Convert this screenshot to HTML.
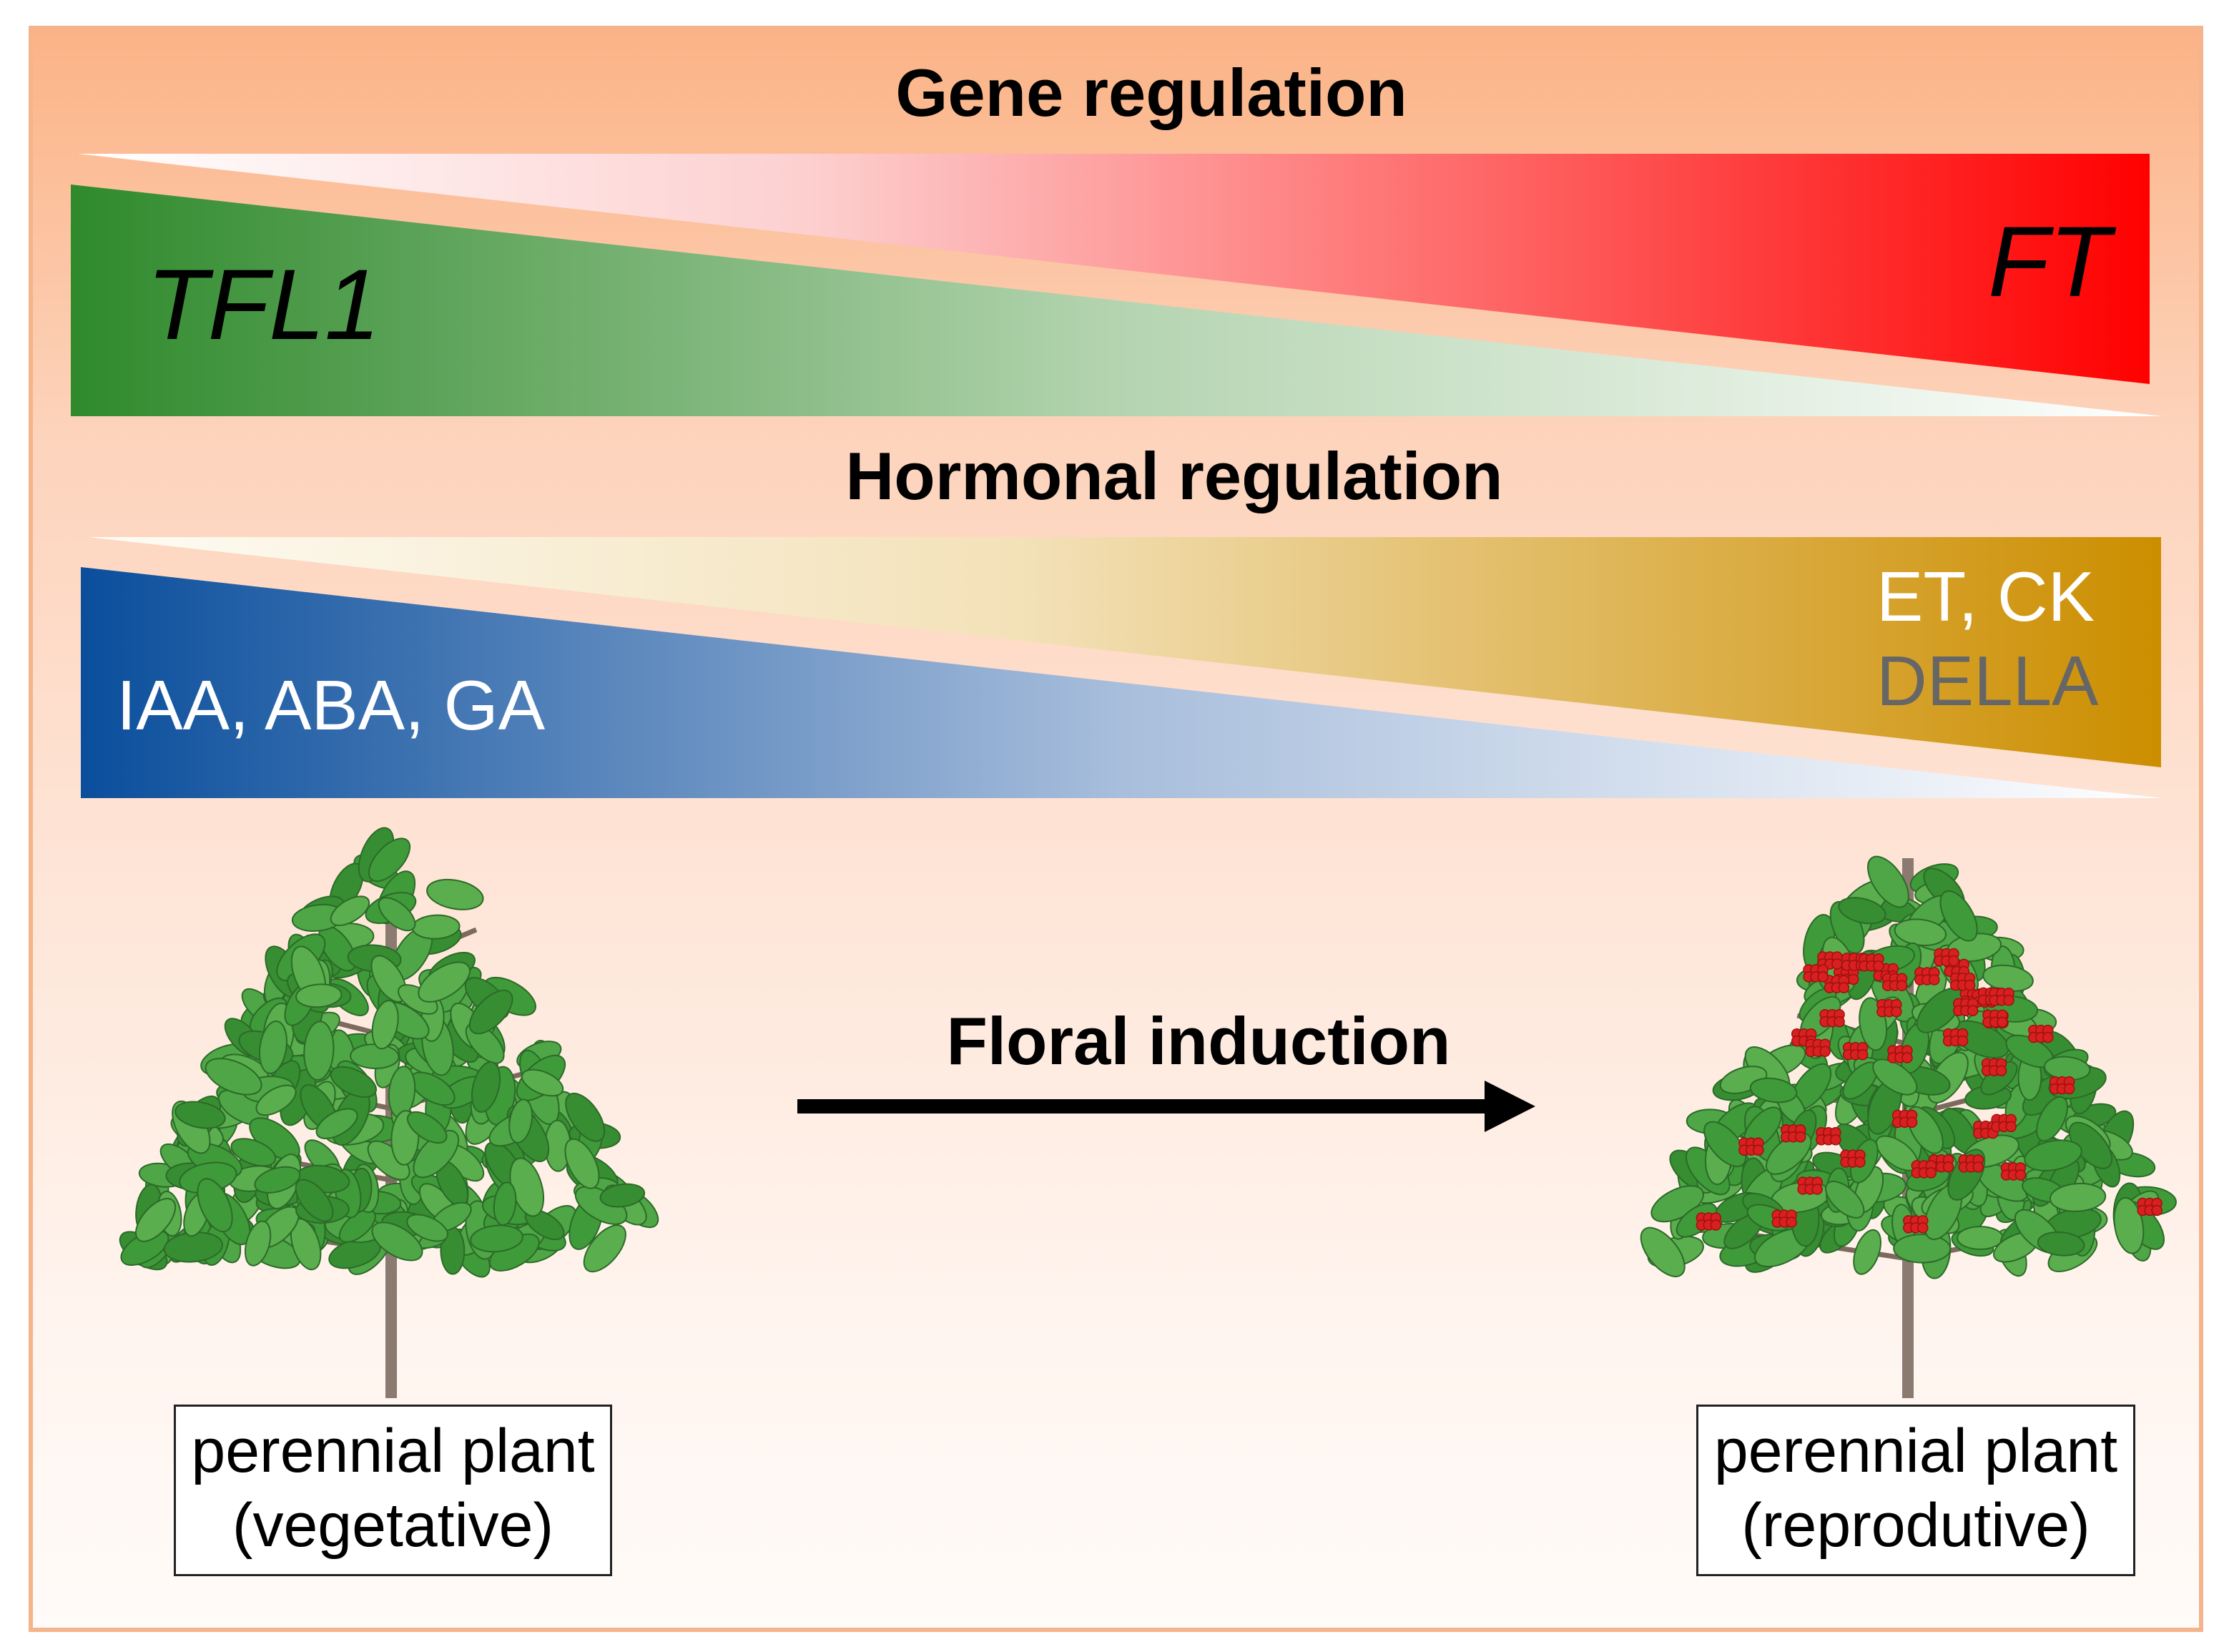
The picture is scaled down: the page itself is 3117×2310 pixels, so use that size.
<!DOCTYPE html>
<html><head><meta charset="utf-8"><style>
html,body{margin:0;padding:0}
body{width:3117px;height:2310px;position:relative;overflow:hidden;font-family:"Liberation Sans",Arial,sans-serif;background:#fff}
.frame{position:absolute;left:40px;top:36px;width:3029px;height:2234px;border:6px solid #f4b48c;background:linear-gradient(#fbb386 0%,#fdd3bb 25%,#fee3d4 50%,#fff4ee 80%,#fffbf8 100%)}
.t{position:absolute;white-space:nowrap}
.box{position:absolute;border:3px solid #222;background:#fff;text-align:center;font-size:86px;line-height:104px;color:#000;box-sizing:border-box;padding-top:10px}
</style></head><body>
<div class="frame"></div>
<svg style="position:absolute;left:0;top:0" width="3117" height="2310">
<defs>
<linearGradient id="gr" x1="0" x2="1"><stop offset="0" stop-color="#2f8a2c"/><stop offset="0.5" stop-color="#b4d4b0"/><stop offset="1" stop-color="#ffffff"/></linearGradient>
<linearGradient id="rd" x1="0" x2="1"><stop offset="0" stop-color="#ffffff"/><stop offset="0.35" stop-color="#fdd0d0"/><stop offset="1" stop-color="#ff0000"/></linearGradient>
<linearGradient id="bl" x1="0" x2="1"><stop offset="0" stop-color="#0a4e9c"/><stop offset="0.5" stop-color="#a8bedc"/><stop offset="1" stop-color="#ffffff"/></linearGradient>
<linearGradient id="gd" x1="0" x2="1"><stop offset="0" stop-color="#fefcf5"/><stop offset="0.45" stop-color="#f3e1b8"/><stop offset="1" stop-color="#cc8e00"/></linearGradient>
</defs>
<polygon points="109,215 3006,215 3006,537" fill="url(#rd)"/>
<polygon points="99,258 99,582 3024,582" fill="url(#gr)"/>
<polygon points="123,751 3022,751 3022,1073" fill="url(#gd)"/>
<polygon points="113,793 113,1116 3024,1116" fill="url(#bl)"/>
<line x1="1115" y1="1547" x2="2090" y2="1547" stroke="#000" stroke-width="20"/>
<polygon points="2076,1511 2147,1547 2076,1583" fill="#000"/>
<g id="plants"></g>
</svg>
<div class="t" style="left:0;width:3220px;text-align:center;top:76px;font-size:94px;font-weight:bold">Gene regulation</div>
<div class="t" style="left:205px;top:345px;font-size:140px;font-style:italic">TFL1</div>
<div class="t" style="left:2780px;top:285px;font-size:140px;font-style:italic">FT</div>
<div class="t" style="left:0;width:3284px;text-align:center;top:612px;font-size:94px;font-weight:bold">Hormonal regulation</div>
<div class="t" style="left:163px;top:930px;font-size:98px;color:#fff">IAA, ABA, GA</div>
<div class="t" style="left:2624px;top:778px;font-size:98px;color:#fff">ET, CK</div>
<div class="t" style="left:2624px;top:896px;font-size:98px;color:#666">DELLA</div>
<div class="t" style="left:0;width:3352px;text-align:center;top:1402px;font-size:94px;font-weight:bold">Floral induction</div>
<div class="box" style="left:243px;top:1964px;width:613px;height:240px">perennial plant<br>(vegetative)</div>
<div class="box" style="left:2372px;top:1964px;width:614px;height:240px">perennial plant<br>(reprodutive)</div>
<script>
(function(){
var g=document.getElementById('plants'),ns='http://www.w3.org/2000/svg',s=7;
function r(){s=(s*9301+49297)%233280;return s/233280;}
function el(t,a){var e=document.createElementNS(ns,t);for(var k in a)e.setAttribute(k,a[k]);g.appendChild(e);return e;}
function plant(cx,top,base,hw,berries){
 var bot=base-200;
 el('line',{x1:cx,y1:top+40,x2:cx,y2:base,stroke:'#8a7a70','stroke-width':16});
 for(var i=0;i<5;i++){var y=top+160+i*100;var w=hw*(0.4+i*0.12);
  el('line',{x1:cx,y1:y+40,x2:cx-w*0.85,y2:y,stroke:'#7d6a5e','stroke-width':7});
  el('line',{x1:cx,y1:y+40,x2:cx+w*0.85,y2:y-10,stroke:'#7d6a5e','stroke-width':7});}
 for(var n=0;n<300;n++){
  var f=Math.sqrt(r());var y=top+20+f*(bot-top-20);var w=hw*Math.min(1,0.12+f*1.0);
  var x=cx+(r()*2-1)*w;var a=r()*360;var L=30+r()*12;
  var c=['#3f9a3a','#4ea646','#5aae4e','#378d32'][Math.floor(r()*4)];
  el('ellipse',{cx:x,cy:y,rx:L,ry:L*0.5,fill:c,stroke:'#2c6a28','stroke-width':2,transform:'rotate('+a+' '+x+' '+y+')'});
 }
 if(berries){for(var b=0;b<45;b++){var f2=0.2+r()*0.75;var y2=top+60+f2*(bot-top-80);var w2=hw*Math.min(1,0.15+f2*0.95);var x2=cx+(r()*2-1)*w2;
  for(var k=0;k<6;k++)el('circle',{cx:x2+(k%3)*10-10,cy:y2+Math.floor(k/3)*10,r:7,fill:'#d82020',stroke:'#a01010','stroke-width':1.5});}}
}
plant(547,1150,1955,350,false);
plant(2668,1160,1955,350,true);
})();
</script>
</body></html>
